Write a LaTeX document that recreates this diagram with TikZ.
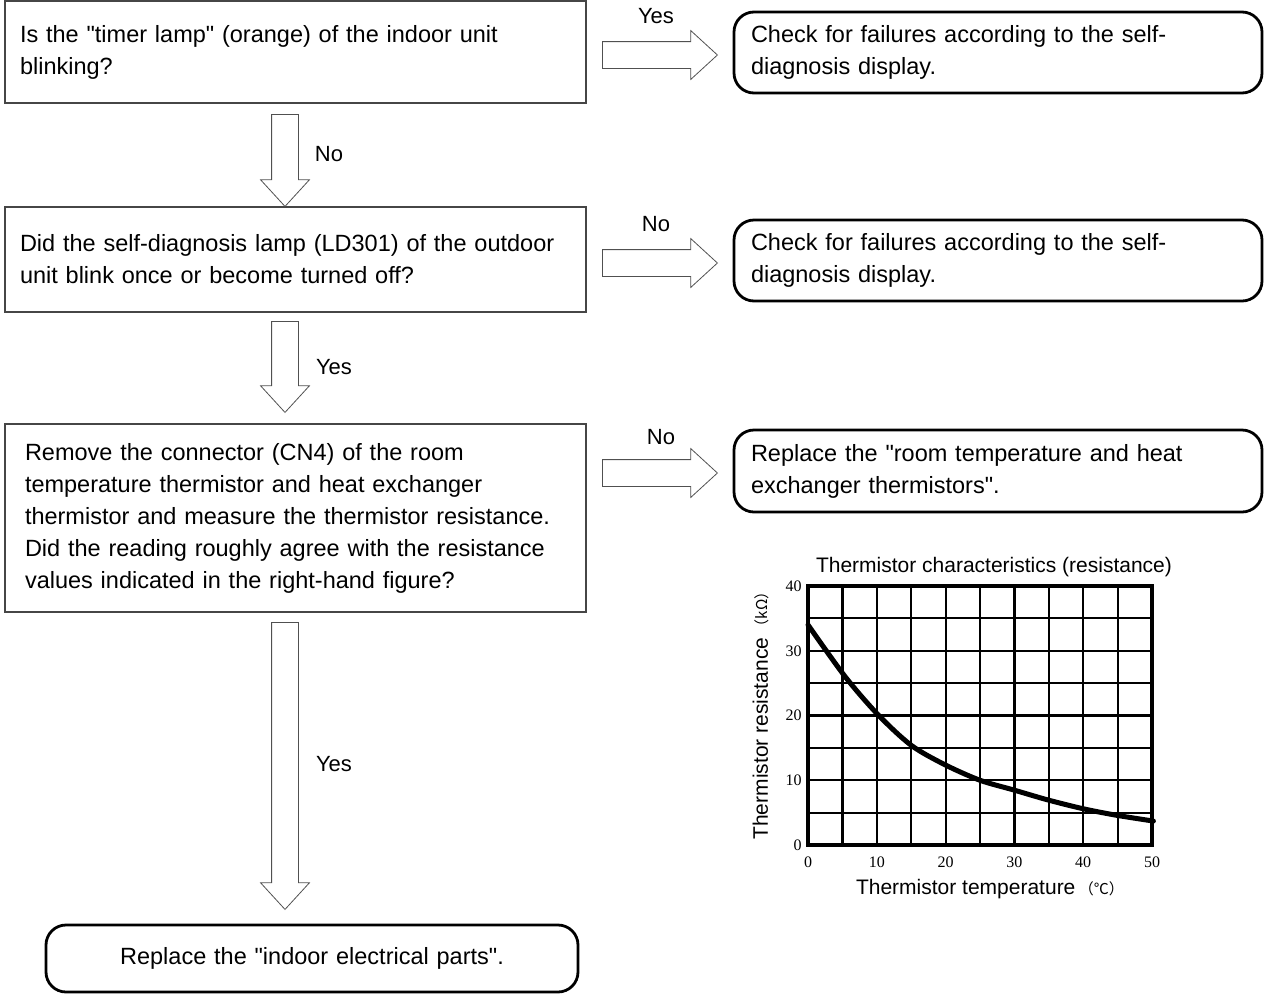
\documentclass[tikz,border=0pt]{standalone}
\usepackage{fontspec}
\setmainfont{Liberation Sans}
\newfontfamily\cjkfont{Noto Sans CJK JP}
\newfontfamily\tickfont{Liberation Serif}
\usetikzlibrary{shapes.arrows, positioning, calc}
\definecolor{framegray}{RGB}{70, 70, 70}
\definecolor{arrowgray}{RGB}{80, 80, 80}

\begin{document}
\begin{tikzpicture}[
    x=1pt, y=-1pt,
    question/.style={rectangle, draw=framegray, line width=1.4pt, minimum width=581pt, text width=551pt, inner xsep=15pt, align=left, font=\fontsize{23.5pt}{32pt}\selectfont},
    answer/.style={rectangle, draw=black, rounded corners=20pt, line width=2.8pt, minimum width=528pt, minimum height=81pt, text width=494pt, inner xsep=17pt, align=left, font=\fontsize{23.5pt}{32pt}\selectfont},
    downarrow/.style={single arrow, draw=arrowgray, line width=0.8pt, inner sep=13pt, single arrow head extend=11pt, single arrow head indent=0pt, single arrow tip angle=85, shape border rotate=270, anchor=tip},
    rightarrow/.style={downarrow, shape border rotate=0, minimum height=115pt},
    choice/.style={font=\fontsize{22pt}{26pt}\selectfont, inner sep=0pt},
    charttext/.style={font=\fontsize{21pt}{24pt}\selectfont, inner sep=0pt},
    ticklabel/.style={font=\tickfont\fontsize{16pt}{18pt}\selectfont, inner sep=0pt}
]
    \useasboundingbox (0,0) rectangle (1264,994);

    % questions
    \node[question, minimum height=102pt] (q1) at (295.5,52) {Is the \textquotedbl timer lamp\textquotedbl{} (orange) of the indoor unit\\blinking?};
    \node[question, minimum height=105pt] (q2) at (295.5,259.5) {Did the self-diagnosis lamp (LD301) of the outdoor\\unit blink once or become turned off?};
    \node[question, minimum height=188pt, inner xsep=20pt, text width=541pt] (q3) at (295.5,518) {Remove the connector (CN4) of the room\\temperature thermistor and heat exchanger\\thermistor and measure the thermistor resistance.\\Did the reading roughly agree with the resistance\\values indicated in the right-hand figure?};

    % results
    \node[answer] (r1) at (998,52.5) {Check for failures according to the self-\\diagnosis display.};
    \node[answer] (r2) at (998,260.5) {Check for failures according to the self-\\diagnosis display.};
    \node[answer, minimum height=82pt] (r3) at (998,471) {Replace the \textquotedbl room temperature and heat\\exchanger thermistors\textquotedbl.};
    \node[answer, minimum width=532pt, minimum height=67pt, text width=498pt, align=center] (r4) at (312,958.5) {Replace the \textquotedbl indoor electrical parts\textquotedbl.};

    % block arrows (placed by their tips)
    \node[downarrow, minimum height=92pt] (a1) at (285,207) {};
    \node[downarrow, minimum height=91pt] (a2) at (285,413) {};
    \node[downarrow, minimum height=287pt] (a3) at (285,910) {};
    \node[rightarrow] (h1) at (718,55) {};
    \node[rightarrow] (h2) at (718,263) {};
    \node[rightarrow] (h3) at (718,473) {};

    \node[choice] (l1) at (329,154) {No};
    \node[choice] (l2) at (334,367) {Yes};
    \node[choice] (l3) at (334,764) {Yes};
    \node[choice] (m1) at (656,16) {Yes};
    \node[choice] (m2) at (656,224) {No};
    \node[choice] (m3) at (661,437) {No};

    % thermistor chart
    \begin{scope}[shift={(808,845)}, x=6.88pt, y=6.475pt]
        \draw[line width=2.2pt] (0,0) grid[xstep=5, ystep=5] (50,40);
        \draw[line width=3.8pt] (0,0) rectangle (50,40);
        \draw[line width=5pt, line cap=round] plot[smooth] coordinates {(0,34) (5.4,26) (10.2,20.1) (15,15.4) (19.9,12.4) (25,10) (29.9,8.5) (34.9,6.95) (40,5.6) (44.8,4.6) (50.2,3.7)};
        \foreach \t in {0,10,...,50}
            \node[ticklabel] (xt\t) at (\t,-2.6) {\t};
        \foreach \r in {0,10,...,40}
            \node[ticklabel, anchor=east] (yt\r) at (-0.9,\r) {\r};
    \end{scope}
    \node[charttext] (ctitle) at (994,567) {Thermistor characteristics (resistance)};
    \node[charttext] (xlabel) at (990,889) {Thermistor temperature\,{\cjkfont\fontsize{15pt}{18pt}\selectfont （℃）}};
    \node[charttext, rotate=90] (ylabel) at (761,712) {Thermistor resistance\,{\cjkfont\fontsize{15pt}{18pt}\selectfont （kΩ）}};
\end{tikzpicture}
\end{document}
